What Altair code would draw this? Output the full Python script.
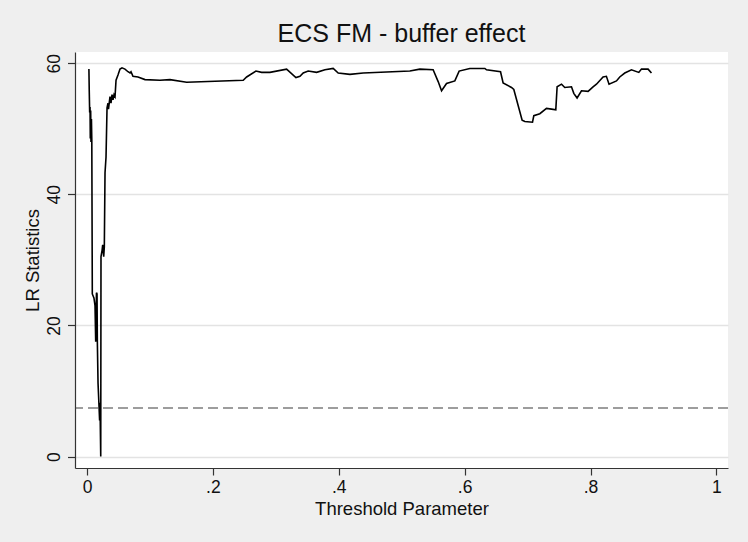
import altair as alt
import pandas as pd

# Threshold grid (gamma) and the likelihood-ratio statistic at each value
threshold = [
    0.0030, 0.0035, 0.0042, 0.0048, 0.0052, 0.0058, 0.0063, 0.0070, 0.0076,
    0.0084, 0.0110, 0.0127, 0.0138, 0.0150, 0.0159, 0.0164, 0.0175, 0.0191,
    0.0200, 0.0206, 0.0218, 0.0222, 0.0240, 0.0249, 0.0265, 0.0275, 0.0286,
    0.0302, 0.0318, 0.0333, 0.0341, 0.0365, 0.0381, 0.0397, 0.0413, 0.0429,
    0.0445, 0.0461, 0.0492, 0.0524, 0.0556, 0.0603, 0.0651, 0.0683, 0.0699,
    0.0730, 0.0810, 0.0921, 0.1159, 0.1318, 0.1583, 0.2482, 0.2536, 0.2684,
    0.2774, 0.2906, 0.3171, 0.3319, 0.3383, 0.3435, 0.3514, 0.3648, 0.3780,
    0.3911, 0.3991, 0.4177, 0.4388, 0.5129, 0.5288, 0.5499, 0.5579, 0.5633,
    0.5712, 0.5844, 0.5912, 0.6082, 0.6321, 0.6347, 0.6570, 0.6611, 0.6744,
    0.6781, 0.6913, 0.6956, 0.7078, 0.7099, 0.7194, 0.7300, 0.7380, 0.7448,
    0.7469, 0.7539, 0.7591, 0.7697, 0.7734, 0.7786, 0.7856, 0.7961, 0.8040,
    0.8094, 0.8199, 0.8252, 0.8294, 0.8412, 0.8464, 0.8544, 0.8650, 0.8767,
    0.8809, 0.8914, 0.8968,
]
lr_stat = [
    59.1, 56.0, 52.5, 53.3, 48.5, 52.8, 48.0, 51.5, 48.2,
    24.8, 24.2, 23.0, 17.5, 25.0, 24.8, 17.6, 11.2, 7.6,
    5.5, 8.2, 0.0, 30.5, 31.5, 32.3, 30.5, 32.0, 43.3,
    45.7, 53.2, 53.9, 53.0, 54.9, 53.9, 55.2, 54.4, 55.2,
    54.9, 57.4, 58.2, 59.1, 59.3, 59.1, 58.7, 58.5, 58.7,
    58.0, 57.9, 57.5, 57.4, 57.5, 57.1, 57.4, 57.9, 58.8,
    58.6, 58.6, 59.1, 57.8, 58.0, 58.5, 58.8, 58.6, 59.0,
    59.2, 58.5, 58.3, 58.5, 58.8, 59.1, 59.0, 57.2, 55.8,
    56.9, 57.3, 58.8, 59.2, 59.2, 59.0, 58.7, 57.0, 56.3,
    56.0, 51.3, 51.1, 51.0, 52.0, 52.3, 53.1, 53.0, 52.9,
    56.4, 56.8, 56.3, 56.4, 55.4, 54.7, 55.8, 55.7, 56.4,
    56.8, 57.9, 58.0, 56.8, 57.3, 57.9, 58.5, 59.0, 58.6,
    59.1, 59.1, 58.5,
]

# 95% critical value drawn as a horizontal reference line
critical_value = [7.4]

x_ticks = [0, 0.2, 0.4, 0.6, 0.8, 1]
y_ticks = [0, 20, 40, 60]

FONT = "Liberation Sans"

curve = pd.DataFrame({"gamma": threshold, "lr": lr_stat})
crit = pd.DataFrame({"cv": critical_value})

x_scale = alt.Scale(domain=[-0.0191, 1.0184], nice=False, zero=False)
y_scale = alt.Scale(domain=[-1.75, 61.71], nice=False, zero=False)

x_axis = alt.Axis(
    title="Threshold Parameter",
    values=x_ticks,
    labelExpr="datum.value == 0 ? '0' : datum.value == 1 ? '1' : replace(format(datum.value, '.1f'), '0.', '.')",
    grid=False,
    tickSize=7,
    labelPadding=3,
    labelFontSize=17.5,
    titleFontSize=18.5,
    titleFontWeight="normal",
    titleBaseline="alphabetic",
    titleY=46,
)
y_axis = alt.Axis(
    title="LR Statistics",
    values=y_ticks,
    grid=True,
    tickSize=7.5,
    labelAngle=270,
    labelAlign="center",
    labelBaseline="alphabetic",
    labelPadding=8.4,
    labelFontSize=17.5,
    titleFontSize=18.5,
    titleFontWeight="normal",
    titleAngle=270,
    titleAlign="center",
    titleBaseline="alphabetic",
    titleX=-37,
    titleY=208,
)

line = alt.Chart(curve).mark_line(color="black", strokeWidth=1.6).encode(
    x=alt.X("gamma:Q", scale=x_scale, axis=x_axis),
    y=alt.Y("lr:Q", scale=y_scale, axis=y_axis),
)

rule = alt.Chart(crit).mark_rule(
    color="#3c3c3c", strokeWidth=1.2, strokeDash=[10, 5]
).encode(y=alt.Y("cv:Q", scale=y_scale))

chart = (
    alt.layer(rule, line)
    .properties(
        width=653,
        height=416,
        background="#efefef",
        padding={"left": 75, "top": 52, "right": 20, "bottom": 74},
        autosize=alt.AutoSizeParams(type="none"),
        title=alt.TitleParams(
            "ECS FM - buffer effect",
            fontSize=25,
            font=FONT,
            fontWeight="normal",
            color="#111111",
            anchor="middle",
            baseline="alphabetic",
            offset=9,
            dy=24,
        ),
    )
    .configure_view(fill="white", stroke=None)
    .configure_axis(
        labelFont=FONT,
        titleFont=FONT,
        labelColor="#111111",
        titleColor="#111111",
        domainColor="#333333",
        domainWidth=1.2,
        tickColor="#333333",
        tickWidth=1.2,
        gridColor="#e3e3e3",
        gridWidth=1.5,
    )
)

chart.save("out.html", embed_options={"renderer": "svg", "actions": False})
